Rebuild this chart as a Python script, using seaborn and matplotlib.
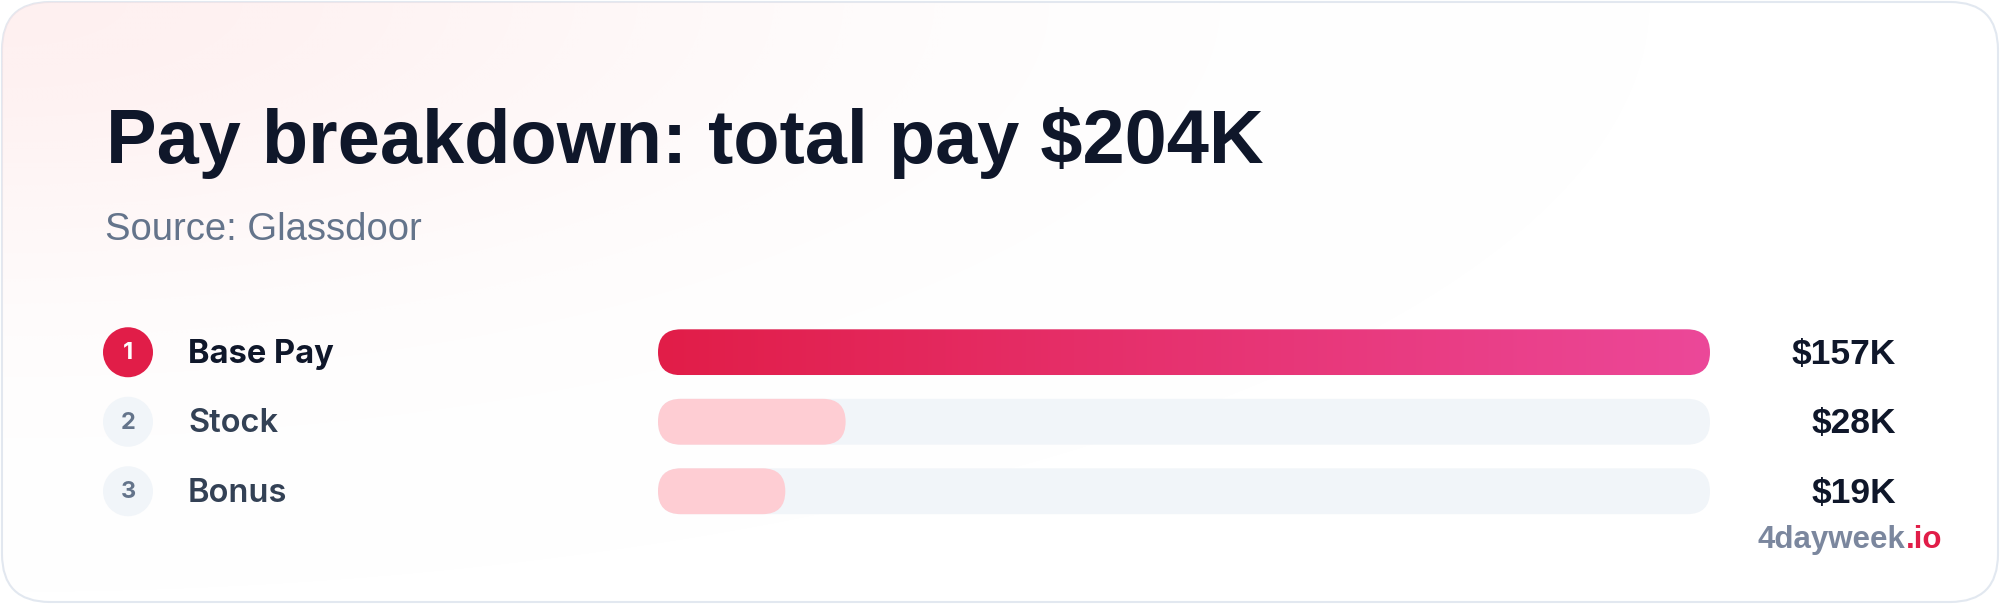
import numpy as np
import pandas as pd
import seaborn as sns
from matplotlib import pyplot as plt
from matplotlib.patches import FancyBboxPatch, Circle
from matplotlib.colors import to_rgb

# 数据
components = ['Base Pay', 'Stock', 'Bonus']
pay_k = [157, 28, 19]
value_labels = ['$157K', '$28K', '$19K']
ranks = ['1', '2', '3']
title = 'Pay breakdown: total pay $204K'
source = 'Source: Glassdoor'

sns.set_theme(style='white')
plt.rcParams['font.family'] = ['Liberation Sans', 'DejaVu Sans']

df = pd.DataFrame({'component': components, 'pay': pay_k})
df['track'] = df['pay'].max()

fig = plt.figure(figsize=(20, 6.04), dpi=100)
fig.patch.set_facecolor('white')

# 背景卡片（像素坐标）
bg = fig.add_axes([0, 0, 1, 1])
bg.axis('off')
card = FancyBboxPatch((2, 2), 1996, 600, boxstyle='round,pad=0,rounding_size=48',
                      fc='white', ec='#e2e8f0', lw=1.5, zorder=0)
bg.add_patch(card)

# 左上角的粉色光晕
gx, gy = np.meshgrid(np.linspace(0, 2000, 400), np.linspace(0, 604, 121))
glow = np.zeros(gx.shape + (4,))
glow[..., :3] = to_rgb('#fee2e2')
glow[..., 3] = 0.5 * np.exp(-((gx / 750) ** 2 + (gy / 270) ** 2))
im = bg.imshow(glow, extent=[0, 2000, 604, 0], aspect='auto', zorder=1, interpolation='bilinear')
im.set_clip_path(card)
bg.set_xlim(0, 2000)
bg.set_ylim(604, 0)

# 条形图
ax = fig.add_axes([658 / 2000, 1 - 526 / 604, 1052 / 2000, 208.5 / 604])
ax.patch.set_alpha(0)
sns.barplot(data=df, x='track', y='component', color='#f1f5f9', saturation=1, width=0.66, ax=ax)
sns.barplot(data=df, x='pay', y='component', color='#fecdd3', saturation=1, width=0.66, ax=ax)
ax.set_xlim(0, df['pay'].max())
ax.set_ylim(len(df) - 0.5, -0.5)
ax.axis('off')

to_px = ax.transData + bg.transData.inverted()
n = len(df)
for k, p in enumerate(list(ax.patches)):
    x0, y0, w, h = p.get_x(), p.get_y(), p.get_width(), p.get_height()
    (ax0, ay0), (ax1, ay1) = to_px.transform([(x0, y0), (x0 + w, y0 + h)])
    left, top = min(ax0, ax1), min(ay0, ay1)
    bw, bh = abs(ax1 - ax0), abs(ay1 - ay0)
    p.set_visible(False)
    is_top = k >= n and (k - n) == int(np.argmax(df['pay']))
    rounded = FancyBboxPatch((left, top), bw, bh,
                             boxstyle=f'round,pad=0,rounding_size={bh / 2}',
                             fc=p.get_facecolor() if not is_top else 'none',
                             ec='none', zorder=3 if k >= n else 2)
    bg.add_patch(rounded)
    if is_top:
        c0, c1 = np.array(to_rgb('#e11d48')), np.array(to_rgb('#ec4899'))
        t = np.linspace(0, 1, 256)[None, :, None]
        grad = c0 + (c1 - c0) * t
        g = bg.imshow(grad, extent=[left, left + bw, top + bh, top], aspect='auto',
                      zorder=4, interpolation='bilinear')
        g.set_clip_path(rounded)
bg.set_xlim(0, 2000)
bg.set_ylim(604, 0)

# 标题
bg.text(106, 163, title, fontsize=54.5, fontweight='bold', color='#0f172a', va='baseline', ha='left')
bg.text(105, 240, source, fontsize=27.5, color='#64748b', va='baseline', ha='left')

# 排名、标签和数值
for i, (comp, rank, lab) in enumerate(zip(components, ranks, value_labels)):
    yc = to_px.transform([(0, i)])[0][1]
    top_row = i == 0
    bg.add_patch(Circle((128, yc), 25, fc='#e11d48' if top_row else '#f1f5f9', ec='none', zorder=3))
    bg.text(128, yc + 1, rank, fontsize=17, fontweight='bold', family=['Inter', 'DejaVu Sans'],
            color='white' if top_row else '#64748b', ha='center', va='center', zorder=4)
    bg.text(188, yc + 2, comp, fontsize=23.5, family=['Inter', 'DejaVu Sans'],
            fontweight='bold' if top_row else 'semibold',
            color='#0f172a' if top_row else '#334155', ha='left', va='center', zorder=4)
    bg.text(1896, yc + 2, lab, fontsize=25.5, fontweight='bold', color='#0f172a',
            ha='right', va='center', zorder=4)

# 水印
io = bg.text(1942, 548, '.io', fontsize=22.5, fontweight='bold', color='#e11d48',
             ha='right', va='baseline', zorder=4)
bg.annotate('4dayweek', xy=(0, 0), xycoords=io, fontsize=22.5, fontweight='bold',
            color='#7b879e', ha='right', va='bottom', zorder=4)

plt.savefig('out.png', dpi=100, facecolor='white')
